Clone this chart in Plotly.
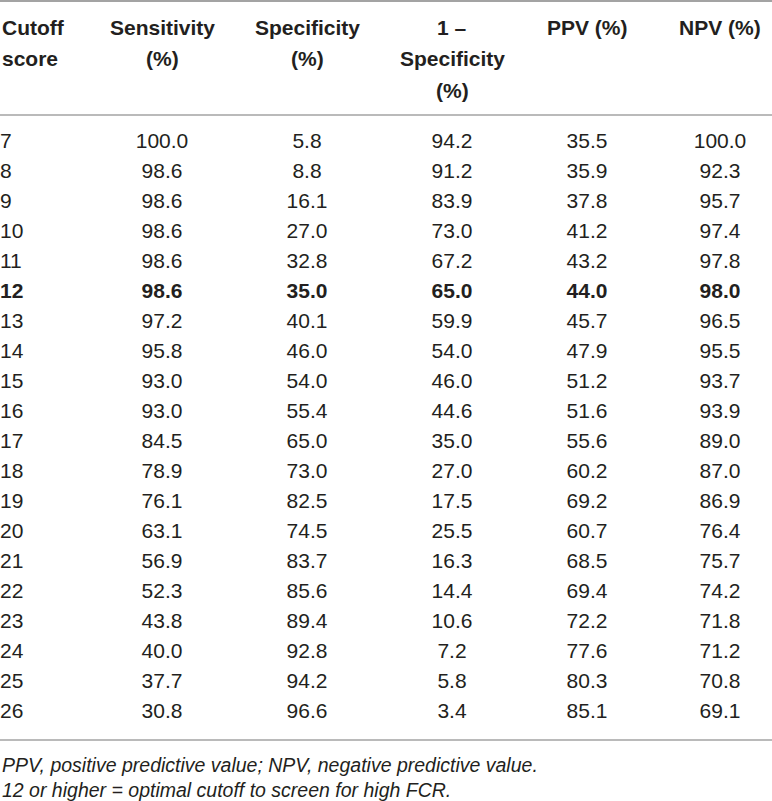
import plotly.graph_objects as go

# table data
cutoff = [7, 8, 9, 10, 11, 12, 13, 14, 15, 16, 17, 18, 19, 20, 21, 22, 23, 24, 25, 26]
sensitivity = [100.0, 98.6, 98.6, 98.6, 98.6, 98.6, 97.2, 95.8, 93.0, 93.0,
               84.5, 78.9, 76.1, 63.1, 56.9, 52.3, 43.8, 40.0, 37.7, 30.8]
specificity = [5.8, 8.8, 16.1, 27.0, 32.8, 35.0, 40.1, 46.0, 54.0, 55.4,
               65.0, 73.0, 82.5, 74.5, 83.7, 85.6, 89.4, 92.8, 94.2, 96.6]
one_minus_spec = [94.2, 91.2, 83.9, 73.0, 67.2, 65.0, 59.9, 54.0, 46.0, 44.6,
                  35.0, 27.0, 17.5, 25.5, 16.3, 14.4, 10.6, 7.2, 5.8, 3.4]
ppv = [35.5, 35.9, 37.8, 41.2, 43.2, 44.0, 45.7, 47.9, 51.2, 51.6,
       55.6, 60.2, 69.2, 60.7, 68.5, 69.4, 72.2, 77.6, 80.3, 85.1]
npv = [100.0, 92.3, 95.7, 97.4, 97.8, 98.0, 96.5, 95.5, 93.7, 93.9,
       89.0, 87.0, 86.9, 76.4, 75.7, 74.2, 71.8, 71.2, 70.8, 69.1]

headers = [["Cutoff", "score"],
           ["Sensitivity", "(%)"],
           ["Specificity", "(%)"],
           ["1 \u2013", "Specificity", "(%)"],
           ["PPV (%)"],
           ["NPV (%)"]]
footnotes = ["PPV, positive predictive value; NPV, negative predictive value.",
             "12 or higher = optimal cutoff to screen for high FCR."]
optimal = 12

# layout (pixels)
W, H = 772, 801
col_x = [0, 162, 307, 452, 587, 720]
row_top, row_h = 143, 30
head_y = [28, 59, 90]
rules = [(1, 2.0), (115, 1.5), (740, 1.5)]
foot_y = [765, 790]
FONT = "Liberation Sans, Arial, sans-serif"
TXT = "#231f20"
RULE = "#a3a3a3"


def py(px):
    return 1 - px / H


def fmt(v, i):
    s = str(v)
    return f"<b>{s}</b>" if cutoff[i] == optimal else s


fig = go.Figure()
columns = [cutoff, sensitivity, specificity, one_minus_spec, ppv, npv]
for j, col in enumerate(columns):
    texts = [fmt(v if j == 0 else f"{v:.1f}", i) for i, v in enumerate(col)]
    fig.add_trace(go.Scatter(
        x=[col_x[j]] * len(col), y=cutoff, mode="text", text=texts,
        textposition="middle right" if j == 0 else "middle center",
        textfont=dict(family=FONT, size=21, color=TXT),
        hoverinfo="skip", showlegend=False))

for j, lines in enumerate(headers):
    for k, line in enumerate(lines):
        fig.add_annotation(
            x=col_x[j], y=py(head_y[k]), xref="x", yref="paper",
            text=f"<b>{line}</b>", showarrow=False,
            xanchor="left" if j == 0 else "center", yanchor="middle",
            font=dict(family=FONT, size=21, color=TXT))

for yy, lw in rules:
    fig.add_shape(type="line", xref="paper", yref="paper", x0=0, x1=1,
                  y0=py(yy), y1=py(yy), line=dict(color=RULE, width=lw))

for k, note in enumerate(footnotes):
    fig.add_annotation(
        x=0, y=py(foot_y[k]), xref="paper", yref="paper",
        text=f"<i>{note}</i>", showarrow=False, xanchor="left",
        yanchor="middle", font=dict(family=FONT, size=19.5, color=TXT))

y0 = cutoff[0] - row_top / row_h
y1 = cutoff[0] + (H - row_top) / row_h
fig.update_xaxes(range=[0, W], visible=False, fixedrange=True)
fig.update_yaxes(range=[y1, y0], visible=False, fixedrange=True)
fig.update_layout(width=W, height=H, margin=dict(l=0, r=0, t=0, b=0),
                  plot_bgcolor="white", paper_bgcolor="white")

# page body has an 8px default margin; drop it so the table sits at the corner
fig.write_html("out.html", config={"displayModeBar": False},
               post_script="document.body.style.margin='0';"
                           "document.body.style.overflow='hidden';")
